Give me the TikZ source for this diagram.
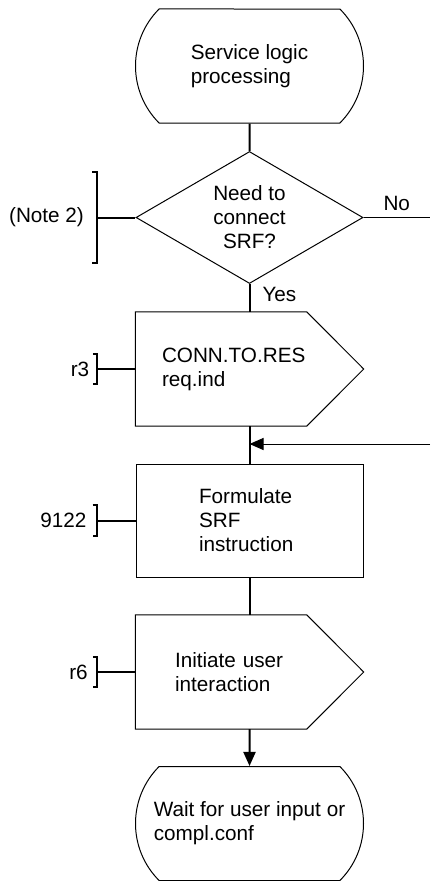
\documentclass[tikz,border=0pt]{standalone}
\usepackage{fontspec}
\setmainfont{Liberation Sans}
\usetikzlibrary{shapes,arrows.meta,positioning}
\tikzset{basic/.style={draw,line width=1pt,inner sep=0pt,align=left}}
\tikzset{state/.style={basic,rounded rectangle,rounded rectangle arc length=90,minimum width=228pt,minimum height=114pt}}
\tikzset{decision/.style={basic,diamond,aspect=1.7,align=center,minimum width=227pt,minimum height=132pt}}
\tikzset{task/.style={basic,rectangle,minimum width=227pt,minimum height=113pt}}
\tikzset{output/.style={rectangle,inner sep=0pt,align=left,minimum width=228pt,minimum height=114pt,
  append after command={\pgfextra{\draw[line width=1pt] (\tikzlastnode.north west) -- ([xshift=-57pt]\tikzlastnode.north east)
    -- (\tikzlastnode.east) -- ([xshift=-57pt]\tikzlastnode.south east) -- (\tikzlastnode.south west) -- cycle;}}}}
\tikzset{flow/.style={draw,line width=2pt}}
\tikzset{side/.style={draw,line width=1pt}}
\tikzset{bracket/.style={inner sep=0pt,minimum width=4pt,minimum height=30pt,
  append after command={\pgfextra{\draw[flow] (\tikzlastnode.north west) -- (\tikzlastnode.north east)
    -- (\tikzlastnode.south east) -- (\tikzlastnode.south west);}}}}
\tikzset{ref/.style={inner sep=0pt}}

\begin{document}
\begin{tikzpicture}[x=1pt,y=-1pt,node distance=151.5pt,font=\fontsize{20.7}{24}\selectfont,
    >={Triangle[length=14pt,width=12pt]}]
    \useasboundingbox (0,0) rectangle (433,881);

    \node[state] (slp) at (249.5,66) {Service logic\\processing};
    \node[decision,below of=slp] (needsrf) {Need to\\connect\\SRF?};
    \node[output,below of=needsrf,text width=175pt] (connres) {CONN.TO.RES\\req.ind};
    \node[task,below of=connres,text width=101pt] (formulate) {Formulate\\SRF\\instruction};
    \node[output,below of=formulate,text width=149pt] (initiate) {Initiate user\\interaction};
    \node[state,below of=initiate] (waitinput) {Wait for user input or\\compl.conf};

    \node[bracket,minimum height=91pt,left=39pt of needsrf.west] (bnote) {};
    \node[ref,left=8pt of bnote.west] (note) {(Note 2)};
    \node[bracket,left=38pt of connres.west] (br3) {};
    \node[ref,left=3.5pt of br3.west] (r3) {r3};
    \node[bracket,left=38.5pt of formulate.west] (b9122) {};
    \node[ref,left=6pt of b9122.west] (n9122) {9122};
    \node[bracket,left=38pt of initiate.west] (br6) {};
    \node[ref,left=5pt of br6.west] (r6) {r6};

    \coordinate (noend) at (430,217.5);
    \coordinate (back) at (430,444);
    \coordinate (merge) at (connres.south |- back);

        \path[flow] (slp) -- (needsrf);
        \path[flow] (needsrf) -- node[pos=0,anchor=north west,inner sep=2pt,xshift=10pt] {Yes} (connres);
        \path[side] (needsrf) -- node[above,inner sep=6pt] {No} (noend);
        \path[flow] (connres) -- (formulate);
        \path[side,->] (back) -- (merge);
        \path[flow] (formulate) -- (initiate);
        \path[flow,->] (initiate) -- (waitinput);

        \path[flow] (bnote) -- (needsrf);
        \path[flow] (br3) -- (connres);
        \path[flow] (b9122) -- (formulate);
        \path[flow] (br6) -- (initiate);
\end{tikzpicture}
\end{document}
